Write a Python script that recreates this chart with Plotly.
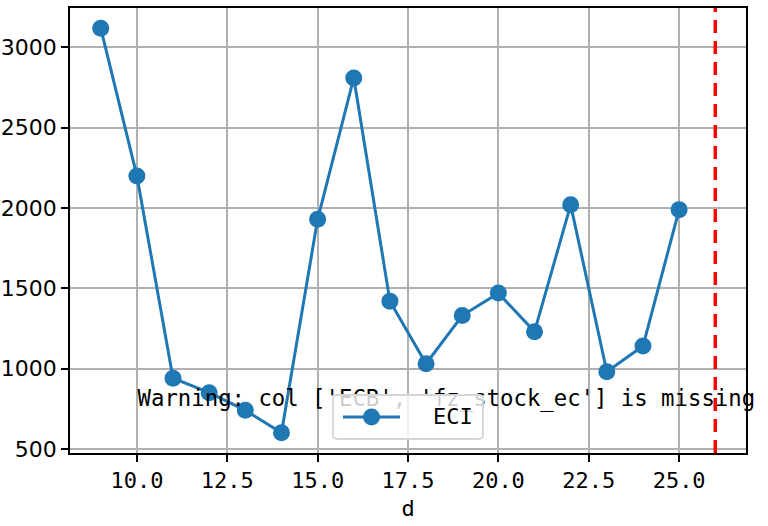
import plotly.graph_objects as go

# ---- data ----
days = [9, 10, 11, 12, 13, 14, 15, 16, 17, 18, 19, 20, 21, 22, 23, 24, 25]
eci_values = [3120, 2200, 940, 850, 740, 600, 1930, 2810, 1420, 1030, 1330, 1470, 1230, 2020, 980, 1140, 1990]
cutoff_day = 26
series_name = "ECI"
x_title = "d"
warning_text = "Warning: col ['ECB', 'fz_stock_ec'] is missing"
y_ticks = [500, 1000, 1500, 2000, 2500, 3000]
x_ticks = [10.0, 12.5, 15.0, 17.5, 20.0, 22.5, 25.0]

# matplotlib-like autoscale with 5% margins
x_lo_d, x_hi_d = min(days + [cutoff_day]), max(days + [cutoff_day])
x_pad = 0.05 * (x_hi_d - x_lo_d)
x_range = [x_lo_d - x_pad, x_hi_d + x_pad]
y_lo_d, y_hi_d = min(eci_values), max(eci_values)
y_pad = 0.05 * (y_hi_d - y_lo_d)
y_range = [y_lo_d - y_pad, y_hi_d + y_pad]

BLUE = "#1f77b4"
MONO = "DejaVu Sans Mono"

fig = go.Figure()
fig.add_trace(go.Scatter(
    x=days, y=eci_values, mode="lines+markers", name=series_name,
    line=dict(color=BLUE, width=3),
    marker=dict(color=BLUE, size=17),
    showlegend=False,
))

# warning text placed near axes fraction (0.1, 0.1), like transAxes
warn_x = x_range[0] + 0.1 * (x_range[1] - x_range[0])
warn_y = y_range[0] + 0.093 * (y_range[1] - y_range[0])
fig.add_trace(go.Scatter(
    x=[warn_x], y=[warn_y], mode="text", text=[warning_text],
    textposition="top right", showlegend=False, cliponaxis=False,
    textfont=dict(family=MONO, size=22.3, color="black"), hoverinfo="skip",
))

fig.add_shape(type="line", xref="x", yref="y domain", x0=cutoff_day, x1=cutoff_day,
              y0=0, y1=1, line=dict(color="red", width=3.5, dash="13px,8px"), layer="above")

# matplotlib-style legend box (lower center)
legend_box = ("M -71,14 L 71,14 Q 75,14 75,18 L 75,54 Q 75,58 71,58 "
              "L -71,58 Q -75,58 -75,54 L -75,18 Q -75,14 -71,14 Z")
fig.add_shape(type="path", xref="paper", yref="paper", xsizemode="pixel", ysizemode="pixel",
              xanchor=0.5, yanchor=0, path=legend_box,
              fillcolor="rgba(255,255,255,0.8)", line=dict(color="#d6d6d6", width=1.8), layer="above")
fig.add_shape(type="line", xref="paper", yref="paper", xsizemode="pixel", ysizemode="pixel",
              xanchor=0.5, yanchor=0, x0=-65, x1=-8, y0=36, y1=36,
              line=dict(color=BLUE, width=3), layer="above")
fig.add_shape(type="circle", xref="paper", yref="paper", xsizemode="pixel", ysizemode="pixel",
              xanchor=0.5, yanchor=0, x0=-45, x1=-28, y0=27.5, y1=44.5,
              fillcolor=BLUE, line=dict(color=BLUE, width=0), layer="above")
fig.add_annotation(xref="paper", yref="paper", x=0.5, y=0, xshift=23, yshift=37,
                   xanchor="left", yanchor="middle", showarrow=False, text=series_name,
                   font=dict(family=MONO, size=22, color="black"))

axis_common = dict(
    showgrid=True, gridcolor="#b0b0b0", gridwidth=1.6,
    showline=True, linecolor="black", linewidth=1.7, mirror=True,
    ticks="outside", ticklen=7, tickwidth=1.7, tickcolor="black",
    zeroline=False, automargin=False,
)

fig.update_xaxes(range=x_range, tickvals=x_ticks, tickformat=".1f",
                 tickfont=dict(family=MONO, size=22, color="black"),
                 title=dict(text=x_title, font=dict(family=MONO, size=22, color="black"), standoff=8),
                 ticklabelstandoff=0, **axis_common)
fig.update_yaxes(range=y_range, tickvals=y_ticks,
                 tickfont=dict(family="DejaVu Sans", size=22, color="black"),
                 ticklabelstandoff=0, **axis_common)

fig.update_layout(
    width=768, height=526,
    margin=dict(l=70, r=22, t=8, b=73),
    paper_bgcolor="white", plot_bgcolor="white",
    showlegend=False,
)

fig.write_html("out.html", config={"displayModeBar": False},
               post_script="document.body.style.margin='0';")
